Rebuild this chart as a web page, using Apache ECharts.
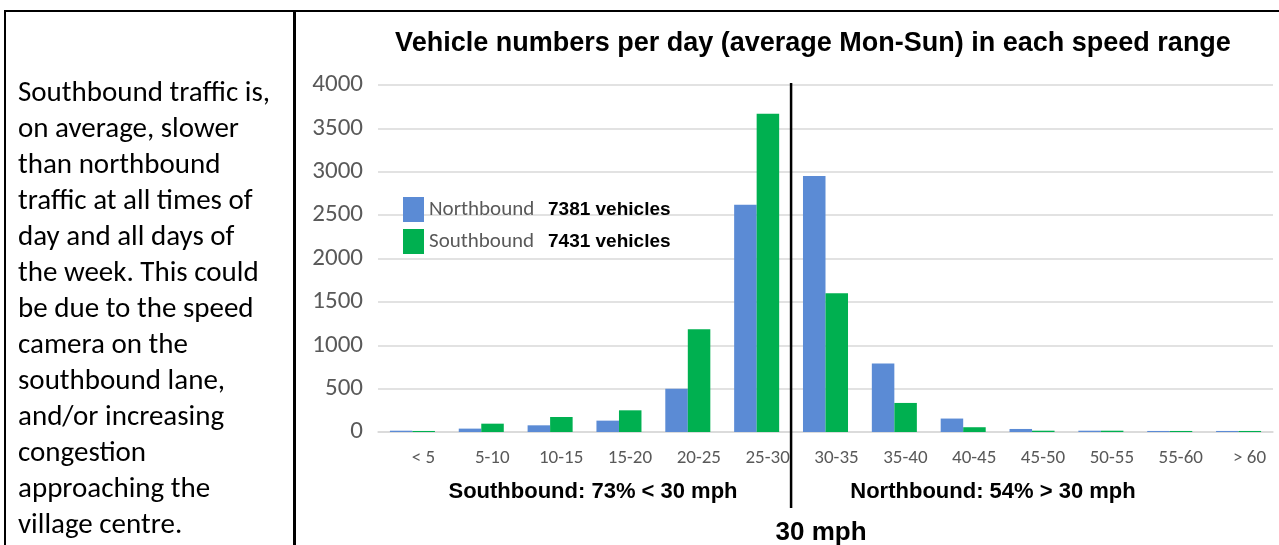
<!DOCTYPE html>
<html>
<head>
<meta charset="utf-8">
<script src="https://cdn.jsdelivr.net/npm/echarts@6/dist/echarts.min.js"></script>
<style>
  html, body { margin: 0; padding: 0; background: #fff; }
  #page { position: relative; width: 1279px; height: 545px; overflow: hidden; }
  #chart { position: absolute; left: 0; top: 0; width: 1279px; height: 545px; }
  .rule { position: absolute; background: #000; }
  #note {
    position: absolute; left: 18px; top: 73px;
    font-family: Calibri, Carlito, Lato, sans-serif; font-size: 29px; line-height: 36px;
    color: #000; white-space: nowrap;
  }
</style>
</head>
<body>
<div id="page">
  <div id="chart"></div>
  <div class="rule" style="left:4px; top:10px; width:1275px; height:2px"></div>
  <div class="rule" style="left:4px; top:10px; width:2px; height:535px"></div>
  <div class="rule" style="left:293px; top:10px; width:3px; height:535px"></div>
  <div id="note"></div>
</div>
<script>
// chart data
const speedRanges = ['< 5', '5-10', '10-15', '15-20', '20-25', '25-30', '30-35', '35-40', '40-45', '45-50', '50-55', '55-60', '> 60']
const northbound = [15, 39, 77, 131, 500, 2620, 2950, 790, 155, 35, 15, 12, 12]
const southbound = [12, 96, 173, 250, 1185, 3670, 1600, 335, 55, 15, 15, 12, 12]
const seriesNames = ['Northbound', 'Southbound']
const totals = [7381, 7431]
const limitRange = '25-30'   // speed limit sits just after this range
const chartTitle = 'Vehicle numbers per day (average Mon-Sun) in each speed range'
const belowLimit = 'Southbound: 73% < 30 mph'
const aboveLimit = 'Northbound: 54% > 30 mph'
const limitLabel = '30 mph'
const noteLines = [
  'Southbound traffic is,', 'on average, slower', 'than northbound', 'traffic at all times of',
  'day and all days of', 'the week. This could', 'be due to the speed', 'camera on the',
  'southbound lane,', 'and/or increasing', 'congestion', 'approaching the', 'village centre.'
]

document.getElementById('note').innerHTML = noteLines.join('<br>')

const blue = '#5b8bd5'
const green = '#00b050'
const gridPos = { left: 378, right: 6, top: 85, bottom: 113 }
const boldFont = '"Liberation Sans", Arial, sans-serif'
const labelFont = 'Calibri, Carlito, Lato, sans-serif'

const chart = echarts.init(document.getElementById('chart'), null, { renderer: 'canvas' })

const option = {
  animation: false,
  grid: [
    gridPos,
    { left: gridPos.left, right: gridPos.right, top: 83, bottom: 37 }
  ],
  legend: {
    orient: 'vertical',
    left: 398, top: 192,
    itemWidth: 21, itemHeight: 25, itemGap: 7,
    icon: 'rect',
    data: seriesNames,
    formatter: name => '{n|' + name + '}{v|' + totals[seriesNames.indexOf(name)] + ' vehicles}',
    textStyle: {
      rich: {
        n: { fontFamily: labelFont, fontSize: 21, color: '#595959', width: 119 },
        v: { fontFamily: boldFont, fontSize: 19, fontWeight: 'bold', color: '#000' }
      }
    }
  },
  xAxis: [
    {
      type: 'category', data: speedRanges, gridIndex: 0,
      axisLine: { lineStyle: { color: '#d9d9d9', width: 1.5 } },
      axisTick: { show: false },
      axisLabel: { color: '#595959', fontFamily: labelFont, fontSize: 19, margin: 17, padding: [0, 0, 0, 22] }
    },
    { type: 'value', gridIndex: 1, min: -0.5, max: speedRanges.length - 0.5, show: false }
  ],
  yAxis: [
    {
      type: 'value', gridIndex: 0, min: 0, max: 4000, interval: 500,
      axisLine: { show: false }, axisTick: { show: false },
      splitLine: { lineStyle: { color: '#d9d9d9', width: 1.5 } },
      axisLabel: { color: '#595959', fontFamily: labelFont, fontSize: 25, margin: 15, formatter: v => String(v) }
    },
    { type: 'value', gridIndex: 1, min: 0, max: 1, show: false }
  ],
  series: [
    { name: seriesNames[0], type: 'bar', data: northbound, itemStyle: { color: blue }, barGap: '0%', barCategoryGap: '34.6%' },
    { name: seriesNames[1], type: 'bar', data: southbound, itemStyle: { color: green }, barGap: '0%', barCategoryGap: '34.6%' },
    {
      type: 'line', xAxisIndex: 1, yAxisIndex: 1, silent: true, symbol: 'none',
      data: [[speedRanges.indexOf(limitRange) + 0.5, 0], [speedRanges.indexOf(limitRange) + 0.5, 1]],
      lineStyle: { color: '#000', width: 2.5 }
    }
  ],
  graphic: [
    { type: 'text', x: 813, y: 44, style: { text: chartTitle, font: 'bold 27px ' + boldFont, fill: '#000', align: 'center', verticalAlign: 'middle' } },
    { type: 'text', x: 593, y: 492, style: { text: belowLimit, font: 'bold 22px ' + boldFont, fill: '#000', align: 'center', verticalAlign: 'middle' } },
    { type: 'text', x: 993, y: 492, style: { text: aboveLimit, font: 'bold 22px ' + boldFont, fill: '#000', align: 'center', verticalAlign: 'middle' } },
    { type: 'text', x: 821, y: 533, style: { text: limitLabel, font: 'bold 26px ' + boldFont, fill: '#000', align: 'center', verticalAlign: 'middle' } }
  ]
}

chart.setOption(option)
</script>
</body>
</html>
